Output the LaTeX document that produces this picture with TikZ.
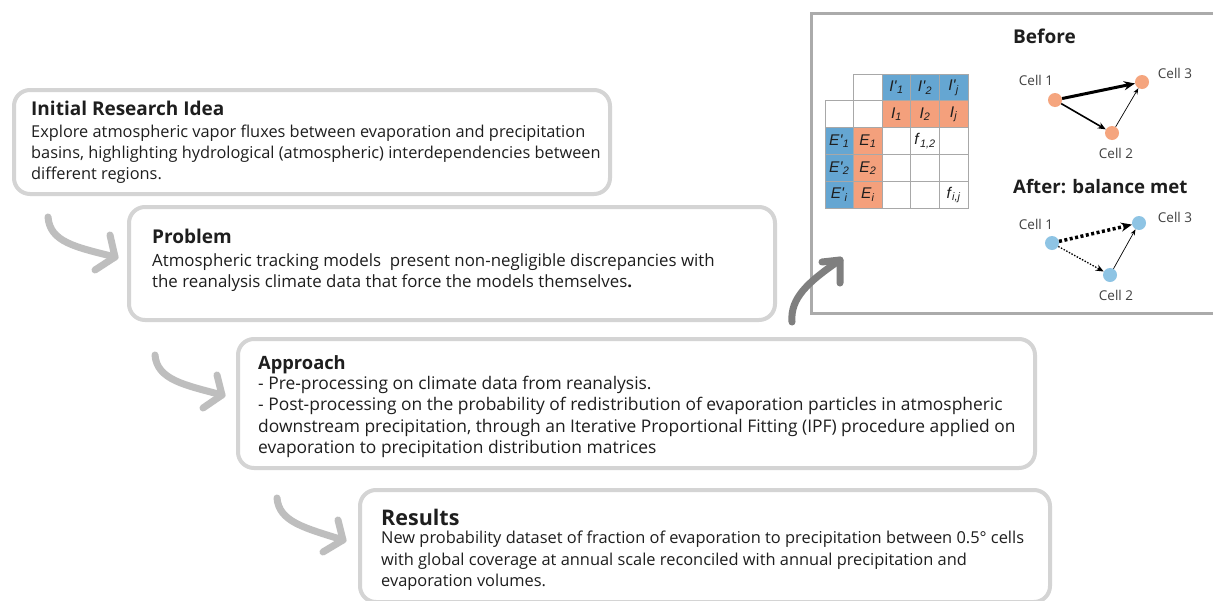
\documentclass[tikz,border=0pt]{standalone}
\usepackage{fontspec}
\setmainfont{Open Sans}
\newfontfamily\cellfont{Liberation Sans}
\usetikzlibrary{arrows.meta}
\definecolor{boxline}{HTML}{D4D4D4}
\definecolor{panelline}{HTML}{ABABAB}
\definecolor{lightarrow}{HTML}{BEBEBE}
\definecolor{darkarrow}{HTML}{7F7F7F}
\definecolor{txt}{HTML}{1E1E1E}
\definecolor{cellblue}{HTML}{65A6D2}
\definecolor{cellorange}{HTML}{F4A07C}
\definecolor{gridline}{HTML}{A8A8A8}
\definecolor{dotblue}{HTML}{8EC4E4}
\definecolor{dotorange}{HTML}{F5A57E}
\newcommand{\mlab}[2]{\textit{#1}\textsubscript{\textit{#2}}}
\begin{document}
\begin{tikzpicture}[x=1pt,y=-1pt,
  box/.style={draw=boxline, line width=4pt, rounded corners=16pt, fill=white, anchor=north west, inner sep=0pt},
  title/.style={anchor=base west, inner sep=0pt, text=txt, font=\fontsize{19}{22}\selectfont\bfseries},
  body/.style={anchor=base west, inner sep=0pt, text=txt, align=left},
  garrow/.style={draw=lightarrow, line width=7pt, line cap=round, line join=round},
  darrow/.style={draw=darkarrow, line width=7pt, line cap=round, line join=round},
  cell/.style={draw=gridline, line width=0.8pt, minimum width=28.6pt, minimum height=26.9pt, inner sep=0pt, text=txt, font=\cellfont\fontsize{15.5}{17}\selectfont},
  dotO/.style={circle, fill=dotorange, minimum size=14pt, inner sep=0pt},
  dotB/.style={circle, fill=dotblue, minimum size=14pt, inner sep=0pt},
  celllab/.style={inner sep=0pt, text=txt!85, font=\fontsize{13.5}{15}\selectfont},
  gtitle/.style={anchor=base west, inner sep=0pt, text=txt, font=\fontsize{19}{22}\selectfont\bfseries}
]
\useasboundingbox (0,0) rectangle (1213,600);
\fill[white] (0,0) rectangle (1213,600);

% ---------- right panel ----------
\node[draw=panelline, line width=3pt, anchor=north west, minimum width=420pt, minimum height=300pt, inner sep=0pt] (panel) at (810,12) {};

% matrix
\foreach \c/\x in {1/839.3,2/867.9,3/896.5,4/925.1,5/953.7}{
  \foreach \r/\y in {1/87.4,2/114.3,3/141.2,4/168.1,5/195.0}{
    \coordinate (p-\r-\c) at (\x,\y);
  }
}
\node[cell] (m12) at (p-1-2) {};
\node[cell, fill=cellblue] (m13) at (p-1-3) {\mlab{I'}{1}};
\node[cell, fill=cellblue] (m14) at (p-1-4) {\mlab{I'}{2}};
\node[cell, fill=cellblue] (m15) at (p-1-5) {\mlab{I'}{j}};
\node[cell] (m21) at (p-2-1) {};
\node[cell] (m22) at (p-2-2) {};
\node[cell, fill=cellorange] (m23) at (p-2-3) {\mlab{I}{1}};
\node[cell, fill=cellorange] (m24) at (p-2-4) {\mlab{I}{2}};
\node[cell, fill=cellorange] (m25) at (p-2-5) {\mlab{I}{j}};
\node[cell, fill=cellblue] (m31) at (p-3-1) {\mlab{E'}{1}};
\node[cell, fill=cellorange] (m32) at (p-3-2) {\mlab{E}{1}};
\node[cell] (m33) at (p-3-3) {};
\node[cell] (m34) at (p-3-4) {\mlab{f}{1,2}};
\node[cell] (m35) at (p-3-5) {};
\node[cell, fill=cellblue] (m41) at (p-4-1) {\mlab{E'}{2}};
\node[cell, fill=cellorange] (m42) at (p-4-2) {\mlab{E}{2}};
\node[cell] (m43) at (p-4-3) {};
\node[cell] (m44) at (p-4-4) {};
\node[cell] (m45) at (p-4-5) {};
\node[cell, fill=cellblue] (m51) at (p-5-1) {\mlab{E'}{i}};
\node[cell, fill=cellorange] (m52) at (p-5-2) {\mlab{E}{i}};
\node[cell] (m53) at (p-5-3) {};
\node[cell] (m54) at (p-5-4) {};
\node[cell] (m55) at (p-5-5) {\mlab{f}{i,j}};

% before graph
\node[gtitle] (before) at (1013,43) {Before};
\node[dotO] (b1) at (1055,100) {};
\node[dotO] (b3) at (1142,82) {};
\node[dotO] (b2) at (1112,133) {};
\node[celllab] (b1l) at (1036,80) {Cell 1};
\node[celllab] (b3l) at (1175,73) {Cell 3};
\node[celllab] (b2l) at (1116,153) {Cell 2};
\draw[line width=3pt, -{Stealth[length=11pt,width=9pt]}] (b1) -- (b3);
\draw[line width=1.6pt, -{Stealth[length=8pt,width=6.5pt]}] (b1) -- (b2);
\draw[line width=0.7pt, -{Stealth[length=6pt,width=4.5pt]}] (b2) -- (b3);

% after graph
\node[gtitle, font=\fontsize{18.6}{22}\selectfont\bfseries] (after) at (1013,193) {After: balance met};
\node[dotB] (a1) at (1052,243) {};
\node[dotB] (a3) at (1139,223) {};
\node[dotB] (a2) at (1110,275) {};
\node[celllab] (a1l) at (1036,224) {Cell 1};
\node[celllab] (a3l) at (1175,217) {Cell 3};
\node[celllab] (a2l) at (1116,295) {Cell 2};
\draw[line width=3.5pt, dash pattern=on 3pt off 2.5pt, -{Stealth[length=11pt,width=9pt]}] (a1) -- (a3);
\draw[line width=1.3pt, dash pattern=on 1.5pt off 1.5pt, -{Stealth[length=8pt,width=6.5pt]}] (a1) -- (a2);
\draw[line width=0.7pt, -{Stealth[length=6pt,width=4.5pt]}] (a2) -- (a3);

% ---------- boxes ----------
\node[box, minimum width=596pt, minimum height=104pt] (idea) at (12,88) {};
\node[title] (ideaT) at (31,115.5) {Initial Research Idea};
\node[body, font=\fontsize{16.35}{21}\selectfont] (ideaB) at (31,179.5) {Explore atmospheric vapor fluxes between evaporation and precipitation\\basins, highlighting hydrological (atmospheric) interdependencies between\\different regions.};

\node[box, minimum width=646pt, minimum height=113pt] (prob) at (127,205) {};
\node[title] (probT) at (152,243.5) {Problem};
\node[body, font=\fontsize{16.85}{21.5}\selectfont] (probB) at (152,287.5) {Atmospheric tracking models\ \ present non-negligible discrepancies with\\the reanalysis climate data that force the models themselves\textbf{.}};

\node[box, minimum width=797pt, minimum height=129pt] (appr) at (236,337) {};
\node[title, font=\fontsize{18.3}{22}\selectfont\bfseries] (apprT) at (258,369.5) {Approach};
\node[body, font=\fontsize{17.4}{21.3}\selectfont] (apprB) at (258,453.4) {- Pre-processing on climate data from reanalysis.\\- Post-processing on the probability of redistribution of evaporation particles in atmospheric\\downstream precipitation, through an Iterative Proportional Fitting (IPF) procedure applied on\\evaporation to precipitation distribution matrices};

\node[box, minimum width=690pt, minimum height=112pt] (res) at (358,488) {};
\node[title, font=\fontsize{21.5}{24}\selectfont\bfseries] (resT) at (381,525) {Results};
\node[body, font=\fontsize{16.4}{21.5}\selectfont] (resB) at (381,586.5) {New probability dataset of fraction of evaporation to precipitation between 0.5° cells\\with global coverage at annual scale reconciled with annual precipitation and\\evaporation volumes.};

% ---------- curved arrows ----------
\coordinate (s1) at (48,217); \coordinate (t1) at (115,257);
\draw[garrow] (s1) .. controls (50,242) and (75,247) .. (t1);
\draw[garrow] (110,235) -- (t1) -- (95,270);

\coordinate (s2) at (155,355); \coordinate (t2) at (222,395);
\draw[garrow] (s2) .. controls (157,380) and (185,385) .. (t2);
\draw[garrow] (217,375) -- (t2) -- (203,408);

\coordinate (s3) at (277,498); \coordinate (t3) at (343,540);
\draw[garrow] (s3) .. controls (279,522) and (305,528) .. (t3);
\draw[garrow] (338,520) -- (t3) -- (323,552);

\coordinate (s4) at (792,322); \coordinate (t4) at (840,260);
\draw[darrow] (s4) .. controls (790,298) and (808,282) .. (t4);
\draw[darrow] (822,262) -- (t4) -- (840,283);
\end{tikzpicture}
\end{document}
